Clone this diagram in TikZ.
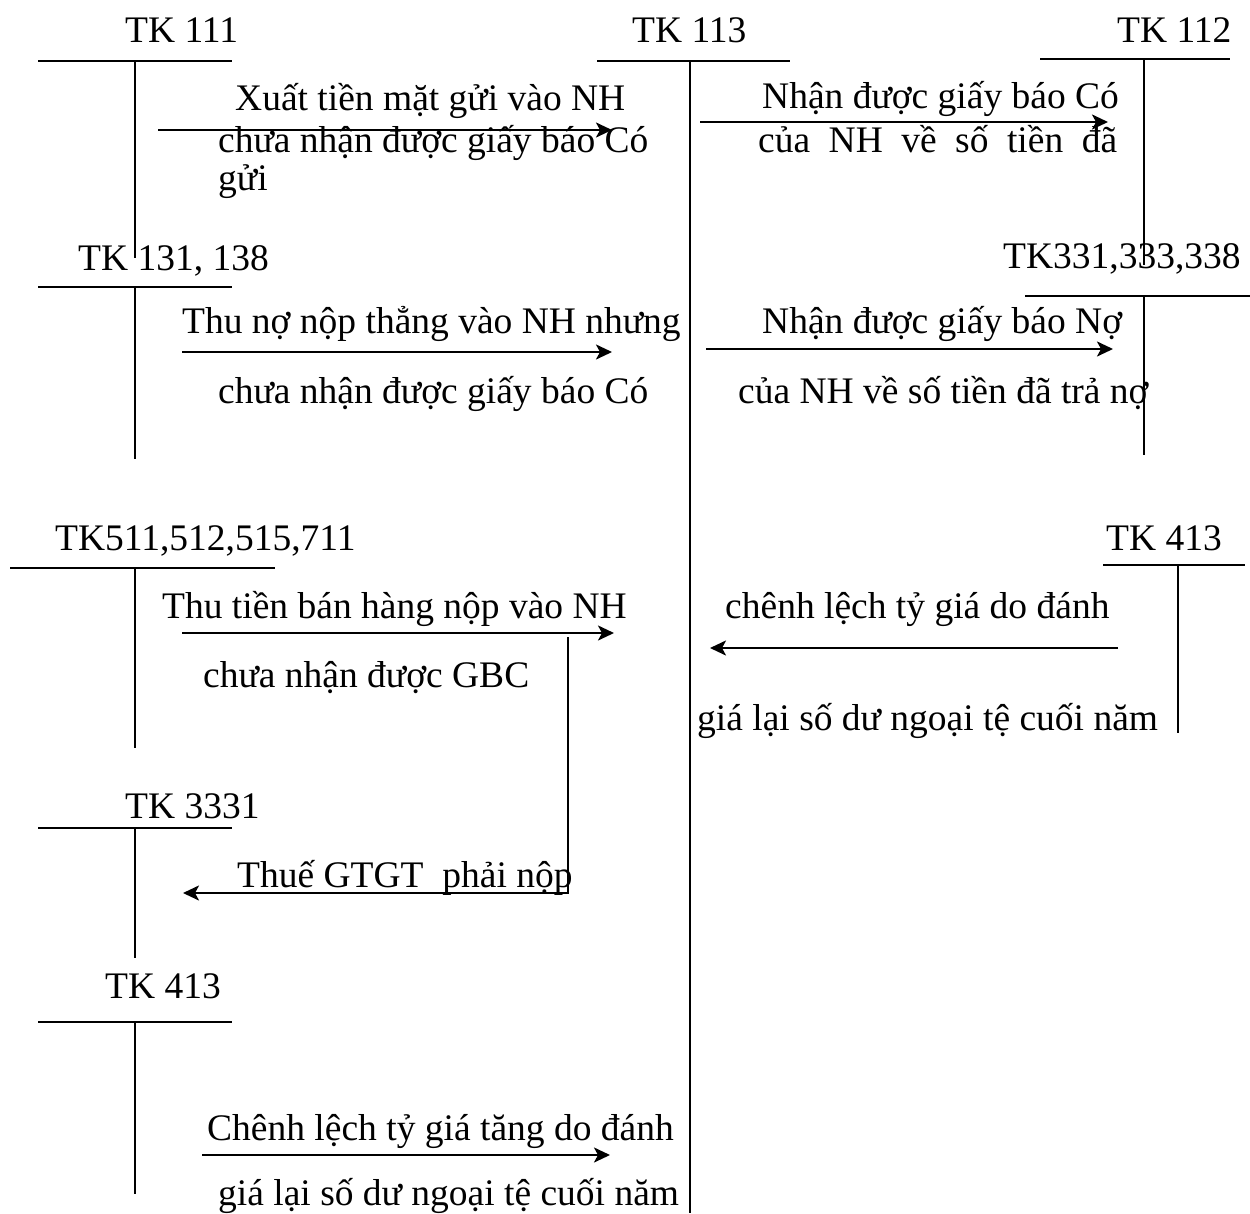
\documentclass[tikz,border=0pt]{standalone}
\usepackage{fontspec}
\setmainfont{Liberation Serif}
\usetikzlibrary{arrows.meta}
\begin{document}
\begin{tikzpicture}[x=1pt,y=-1pt,
  txt/.style={inner sep=0pt, anchor=base west, font=\fontsize{37.5}{45}\selectfont},
  tline/.style={line width=1.8pt},
  flow/.style={line width=2.3pt, -{Stealth[length=16pt,width=15pt,inset=4pt]}}]
\useasboundingbox (0,0) rectangle (1250,1213);

% ---------- account titles ----------
\node[txt] (t111) at (125,42) {TK 111};
\node[txt] (t113) at (632,42) {TK 113};
\node[txt] (t112) at (1117,42) {TK 112};
\node[txt] (t131) at (78,270) {TK 131, 138};
\node[txt] (t331) at (1003,268) {TK331,333,338};
\node[txt] (t511) at (55,550) {TK511,512,515,711};
\node[txt] (t413r) at (1106,550) {TK 413};
\node[txt] (t3331) at (125,818) {TK 3331};
\node[txt] (t413l) at (105,998) {TK 413};

% ---------- T-account bars ----------
\draw[tline] (38,61) -- (232,61);   \draw[tline] (135,61) -- (135,258);
\draw[tline] (597,61) -- (790,61);  \draw[tline] (690,61) -- (690,1213);
\draw[tline] (1040,59) -- (1230,59); \draw[tline] (1144,59) -- (1144,265);
\draw[tline] (38,287) -- (232,287); \draw[tline] (135,287) -- (135,459);
\draw[tline] (1025,296) -- (1250,296); \draw[tline] (1144,296) -- (1144,455);
\draw[tline] (10,568) -- (275,568); \draw[tline] (135,568) -- (135,748);
\draw[tline] (1103,565) -- (1245,565); \draw[tline] (1178,565) -- (1178,733);
\draw[tline] (38,828) -- (232,828); \draw[tline] (135,828) -- (135,958);
\draw[tline] (38,1022) -- (232,1022); \draw[tline] (135,1022) -- (135,1194);

% ---------- arrow end points ----------
\coordinate (a1s) at (158,130);  \coordinate (a1e) at (612,130);
\coordinate (a2s) at (700,122);  \coordinate (a2e) at (1108,122);
\coordinate (a3s) at (182,352);  \coordinate (a3e) at (612,352);
\coordinate (a4s) at (706,349);  \coordinate (a4e) at (1113,349);
\coordinate (a5s) at (182,633);  \coordinate (a5e) at (614,633);
\coordinate (a6s) at (568,637);  \coordinate (a6k) at (568,893); \coordinate (a6e) at (183,893);
\coordinate (a7s) at (1118,648); \coordinate (a7e) at (710,648);
\coordinate (a8s) at (202,1155); \coordinate (a8e) at (610,1155);

\draw[flow] (a1s) -- (a1e);
\draw[flow] (a2s) -- (a2e);
\draw[flow] (a3s) -- (a3e);
\draw[flow] (a4s) -- (a4e);
\draw[flow] (a5s) -- (a5e);
\draw[flow] (a6s) -- (a6k) -- (a6e);
\draw[flow] (a7s) -- (a7e);
\draw[flow] (a8s) -- (a8e);

% ---------- entry texts ----------
\node[txt] (x1a) at (235,110) {Xuất tiền mặt gửi vào NH};
\node[txt] (x1b) at (218,152) {chưa nhận được giấy báo Có};
\node[txt] (x1c) at (218,190) {gửi};

\node[txt] (x2a) at (762,108) {Nhận được giấy báo Có};
\node[txt] (x2b) at (758,152) {\hbox to 359pt{của\hfill NH\hfill về\hfill số\hfill tiền\hfill đã}};

\node[txt] (x3a) at (182,333) {Thu nợ nộp thẳng vào NH nhưng};
\node[txt] (x3b) at (218,403) {chưa nhận được giấy báo Có};

\node[txt] (x4a) at (762,333) {Nhận được giấy báo Nợ};
\node[txt] (x4b) at (738,403) {của NH về số tiền đã trả nợ};

\node[txt] (x5a) at (162,618) {Thu tiền bán hàng nộp vào NH};
\node[txt] (x5b) at (203,687) {chưa nhận được GBC};

\node[txt] (x6) at (237,887) {Thuế GTGT\ \ phải nộp};

\node[txt] (x7a) at (725,618) {chênh lệch tỷ giá do đánh};
\node[txt] (x7b) at (697,730) {giá lại số dư ngoại tệ cuối năm};

\node[txt] (x8a) at (207,1140) {Chênh lệch tỷ giá tăng do đánh};
\node[txt] (x8b) at (218,1205) {giá lại số dư ngoại tệ cuối năm};
\end{tikzpicture}
\end{document}
